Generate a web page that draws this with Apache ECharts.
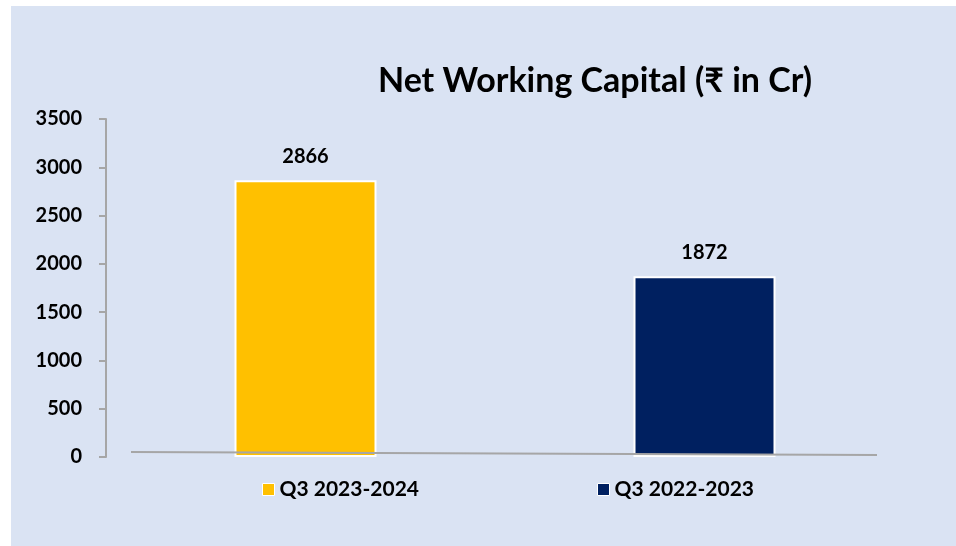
<!DOCTYPE html>
<html>
<head>
<meta charset="utf-8">
<script src="https://cdn.jsdelivr.net/npm/echarts@6/dist/echarts.min.js"></script>
<style>
  html, body { margin: 0; padding: 0; background: #ffffff; }
  #wrap { position: relative; width: 956px; height: 546px; background: #ffffff; }
  #chart { position: absolute; left: 11px; top: 6px; width: 945px; height: 540px; background: #dae3f3; }
</style>
</head>
<body>
<div id="wrap"><div id="chart"></div></div>
<script>
const categories = ["Q3 2023-2024", "Q3 2022-2023"];
const values = [2866, 1872];
const barColors = ["#ffc000", "#002060"];
const yTicks = { min: 0, max: 3500, interval: 500 };

const font = "Lato, 'Noto Sans', 'DejaVu Sans', sans-serif";

const series = categories.map(function(name, i) {
  return {
    name: name,
    type: "bar",
    stack: "nwc",
    barWidth: 142,
    itemStyle: {
      color: barColors[i],
      borderColor: "#ffffff",
      borderWidth: 2
    },
    label: {
      show: true,
      position: "top",
      distance: 14,
      color: "#000000",
      fontFamily: font,
      fontWeight: "bold",
      fontSize: 20
    },
    data: values.map(function(v, j) { return j === i ? v : "-"; })
  };
});

const option = {
  animation: false,
  title: {
    text: "Net Working Capital (₹ in Cr)",
    left: 579,
    textAlign: "center",
    top: 53,
    textStyle: {
      fontFamily: font,
      fontWeight: "bold",
      fontSize: 34,
      color: "#000000"
    }
  },
  legend: [
    {
      data: [categories[0]],
      left: 251,
      top: 473,
      padding: 0,
      icon: "rect",
      itemWidth: 12,
      itemHeight: 12,
      itemStyle: { borderColor: "#ffffff", borderWidth: 1 },
      textStyle: { fontFamily: font, fontWeight: "bold", fontSize: 21, color: "#000000" }
    },
    {
      data: [categories[1]],
      left: 586,
      top: 473,
      padding: 0,
      icon: "rect",
      itemWidth: 12,
      itemHeight: 12,
      itemStyle: { borderColor: "#ffffff", borderWidth: 1 },
      textStyle: { fontFamily: font, fontWeight: "bold", fontSize: 21, color: "#000000" }
    }
  ],
  grid: {
    left: 95,
    right: 52,
    top: 113,
    bottom: 89
  },
  xAxis: {
    type: "category",
    data: categories,
    axisLine: { show: false },
    axisTick: { show: false },
    axisLabel: { show: false }
  },
  yAxis: {
    type: "value",
    min: yTicks.min,
    max: yTicks.max,
    interval: yTicks.interval,
    axisLine: { show: true, lineStyle: { color: "#a6a6a6", width: 2 } },
    axisTick: { show: true, length: 7, lineStyle: { color: "#a6a6a6", width: 2 } },
    splitLine: { show: false },
    axisLabel: {
      margin: 24,
      color: "#000000",
      fontFamily: font,
      fontWeight: "bold",
      fontSize: 20,
      formatter: function(v) { return String(v); }
    }
  },
  graphic: [
    {
      type: "line",
      z: 100,
      shape: { x1: 120, y1: 446, x2: 866, y2: 449 },
      style: { stroke: "#a6a6a6", lineWidth: 2 }
    }
  ],
  series: series
};

const myChart = echarts.init(document.getElementById("chart"));
myChart.setOption(option);
</script>
</body>
</html>
